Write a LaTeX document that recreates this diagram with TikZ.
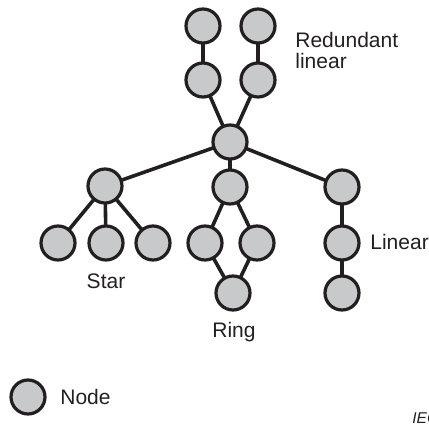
\documentclass[tikz,border=0pt]{standalone}
\usepackage{fontspec}
\setmainfont{Liberation Sans}
\usetikzlibrary{positioning,backgrounds}
\definecolor{ink}{HTML}{231F20}
\definecolor{devgrey}{HTML}{C8C9CB}
\tikzset{
  dev/.style={circle, draw=ink, fill=devgrey, line width=1.6pt, minimum size=17pt, inner sep=0pt},
  link/.style={draw=ink, line width=1.8pt},
  lbl/.style={font=\fontsize{10.5}{10.5}\selectfont, text=ink, inner sep=0pt, align=left},
  tag/.style={font=\fontsize{7.8}{8}\selectfont\itshape, text=ink, inner sep=0pt}
}
\begin{document}
\begin{tikzpicture}[x=0.5pt, y=-0.5pt]
  \useasboundingbox (0,0) rectangle (429,427);

  % redundant linear branch
  \node[dev] (rl1) at (203,26) {};
  \node[dev] (rr1) at (258,26) {};
  \node[dev] (rl2) at (203,80) {};
  \node[dev] (rr2) at (258,80) {};
  \node[dev] (hub) at (230,142) {};

  % star
  \node[dev] (star) at (105,186) {};
  \foreach \n/\x in {1/58, 2/106, 3/153}
    \node[dev] (star\n) at (\x,243) {};

  % ring
  \node[dev] (ringT) at (230,187) {};
  \node[dev] (ringL) at (205,243) {};
  \node[dev] (ringR) at (257,243) {};
  \node[dev] (ringB) at (233,293) {};

  % linear
  \node[dev] (lin1) at (342,187) {};
  \node[dev] (lin2) at (342,243) {};
  \node[dev] (lin3) at (342,293) {};

  % links, kept under the circles
  \begin{scope}[on background layer]
    \draw[link] (rl1.center) -- (rl2.center) -- (hub.center) -- (rr2.center) -- (rr1.center);
    \draw[link] (hub.center) -- (star.center);
    \draw[link] (hub.center) -- (ringT.center);
    \draw[link] (hub.center) -- (lin1.center);
    \foreach \n in {1,2,3}
      \draw[link] (star.center) -- (star\n.center);
    \draw[link] (ringT.center) -- (ringL.center) -- (ringB.center) -- (ringR.center) -- cycle;
    \draw[link] (lin1.center) -- (lin2.center) -- (lin3.center);
  \end{scope}

  % labels
  \node[lbl, anchor=north west] (redlbl) at (295,32) {Redundant\\linear};
  \node[lbl] (starlbl) at (106,281) {Star};
  \node[lbl] (ringlbl) at (234,332) {Ring};
  \node[lbl, anchor=west] (linlbl) at (370,242) {Linear};

  % legend
  \node[dev] (key) at (28,397) {};
  \node[lbl, right=16pt of key.center, anchor=west] (keylbl) {Node};
  \node[tag, anchor=base west] (src) at (412,424) {IEC};
\end{tikzpicture}
\end{document}
